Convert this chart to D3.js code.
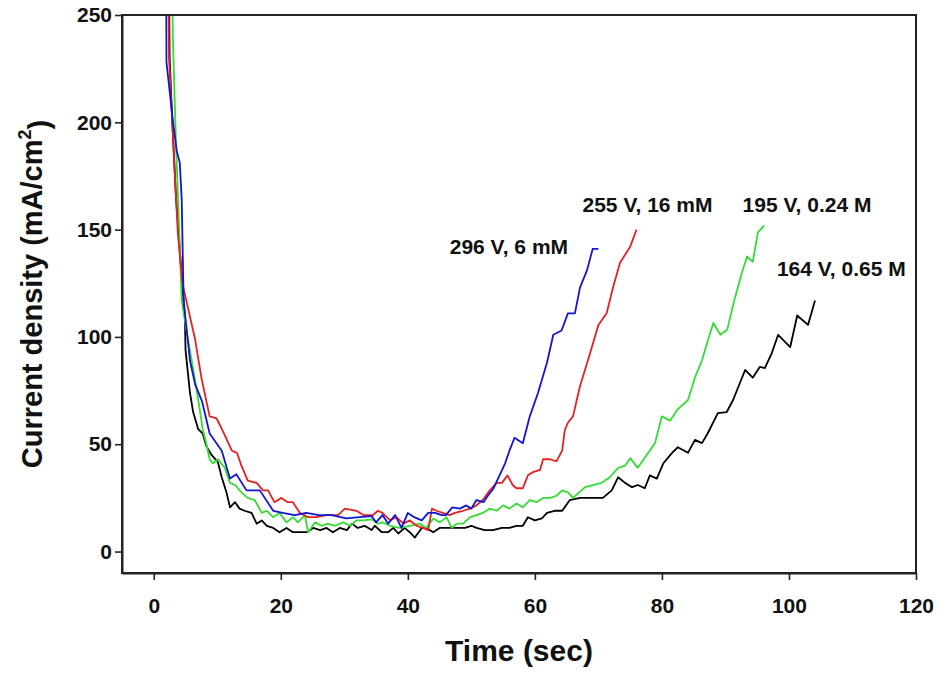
<!DOCTYPE html>
<html>
<head>
<meta charset="utf-8">
<script src="https://cdn.jsdelivr.net/npm/d3@7"></script>
<style>
  html, body { margin: 0; padding: 0; background: #fff; }
  svg { display: block; }
  text { font-family: "Liberation Sans", Arial, sans-serif; font-weight: bold; fill: #111; }
</style>
</head>
<body>
<svg id="chart" width="946" height="673"></svg>
<script>
// ---------------- data ----------------
const seriesNames = ["296 V, 6 mM", "255 V, 16 mM", "195 V, 0.24 M", "164 V, 0.65 M"];

const blue296 = [[1.9,300],[2.0,228],[3.0,201],[3.6,187],[4.1,181],[4.4,164],[4.7,117],[5.7,89],[6.5,78],[7.6,70],[8.8,55],[10.7,47],[12,34],[13,36],[14.6,28.5],[16.7,28.5],[18.8,19],[20.3,18],[22.2,17],[24,18],[26,17],[28,17],[30.3,15.5],[32.4,16],[34.3,16.5],[35,13.6],[36,17],[36.9,13],[38,17],[39,11],[40,18],[41,16],[42.2,14.5],[43.2,18],[44.3,18],[45.3,17],[46,17],[47,20.6],[48.2,20],[49.2,21.5],[50,20],[50.8,24],[51.9,23],[52.6,26],[53.4,29],[54.2,34],[55.3,41],[56,47],[56.8,53],[58.1,50.5],[59.2,63],[60.5,74],[61.9,88],[62.9,101],[64.2,103],[65.2,111],[66.3,111],[67.1,123],[68.2,131],[69.1,141],[70,141]];

const red255 = [[2.2,300],[2.4,230],[3.0,195],[3.5,165],[3.8,148],[4.5,125],[5.2,116],[6.5,99],[7.5,81],[8.8,63],[9.9,62],[10.9,56],[12.3,47],[13.1,46],[13.8,40],[14.8,33],[16.2,32],[17.2,28.5],[18,28.5],[19,23],[20.1,25],[21.1,23],[21.9,23],[23,18],[24.3,16],[25.6,16],[27.2,17],[29,17],[30.1,20],[31.9,19],[33,17],[34.5,17],[35.3,19],[36,18],[37.2,14.5],[38.2,16],[39.3,13],[40.3,14.5],[41.4,12],[42.4,11],[43.2,10],[43.8,20],[44.5,19],[45.5,18],[46.6,17],[47.4,18],[48.7,19],[49.8,20],[50.8,21.5],[51.8,24],[52.9,28.5],[54,32],[54.8,32],[55.7,35.5],[56.5,31],[57.1,29.5],[58.1,29.5],[58.9,35.5],[59.7,37],[60.8,38],[61.3,43],[62.4,43],[63.4,42],[64.3,47],[64.7,56.5],[65.2,60],[66,63],[67.1,77],[68.7,92.5],[70,105.6],[71.3,111],[72.3,123],[73.4,134.6],[75,142],[76,150]];

const green195 = [[2.8,300],[3.0,240],[3.5,190],[4.0,150],[4.4,117],[5.2,102],[6.5,80],[7.2,67],[7.7,57],[8.3,50],[8.8,43],[9.3,41],[10.1,43],[11.2,39],[12,32],[12.8,31],[13.8,27.6],[14.8,25],[15.9,24],[17,18],[17.8,19],[18.8,16],[19.8,18],[20.9,13.6],[21.9,16],[22.7,13.6],[23.8,17],[24.3,9],[25.4,13.6],[26.4,12],[27.4,13],[28.5,12],[29.8,13.6],[30.9,12],[31.9,14.5],[33,14.5],[34.3,15],[35.3,13],[36,13.6],[37.2,12],[38.7,11],[40.3,12],[41.9,13],[42.9,11],[44,15.4],[45,13.6],[46.1,16],[46.9,11],[47.7,13],[48.7,13],[49.8,16],[50.8,17],[51.8,18],[52.9,20],[54,19],[55,21.5],[56,20],[57.1,22.4],[58.1,20.6],[59.2,24],[60.3,23],[61.3,25],[62.4,25],[63.4,26],[64.3,28.5],[65.2,27.6],[66,25],[67.9,30],[69.2,31],[70.5,32],[71.8,34.6],[73.1,39],[74.2,40],[75,43.5],[76.2,39],[77.6,45],[78.9,50.5],[80,63],[81.3,61],[82.4,66],[84.1,70.6],[85.2,81],[86.3,89],[87.1,97],[88.1,106.5],[89.2,101],[90.3,103.5],[91.3,116],[92.6,130],[93.4,137.5],[94.3,135],[95.1,148.6],[96.1,152]];

const black164 = [[2.3,300],[2.5,230],[3.0,195],[3.5,165],[4.0,145],[4.4,128],[4.9,109],[5.0,94],[5.7,74],[6.2,65],[7.0,57],[7.7,55],[8.3,49],[9.1,45],[10.1,41.6],[10.7,34.6],[11.5,27],[12,20.6],[12.8,23],[13.5,20],[14.3,19],[15.4,18],[16.2,13],[17,14.5],[17.8,12],[18.8,11],[19.8,9],[20.9,11],[21.9,9],[23,9],[24.1,9],[25.1,11],[26.2,10],[27.2,11],[28.2,9],[29.3,11],[30.4,10],[31.2,13],[32.1,11],[33.2,12],[34.3,10],[34.8,12],[35.9,9],[36.9,9],[37.7,11],[38.5,8.4],[39.5,11],[40.3,9],[41.1,6.5],[42.2,11],[42.9,11],[44,9],[45,11],[45.8,11],[46.9,11],[47.9,11],[49,11],[50,12],[50.8,11],[52.1,10],[53.4,10],[54.8,11],[56,11],[57.1,12],[58.1,12],[58.9,16],[60,14.5],[61.1,15.4],[61.9,18],[63.1,19],[64.3,19],[65.5,24],[67.1,25],[69.2,25],[70.7,25],[72.1,28.5],[73.1,34.6],[74.2,32],[75.3,30],[76.2,31],[77.3,29.5],[78.1,35.5],[79.2,34],[80.2,41],[81.6,46],[82.5,48.6],[84.1,46],[85.2,52],[86.3,50.5],[87.2,55],[88.8,64.5],[90.2,65],[91.2,70.6],[93.1,84.6],[94.3,81],[95.4,86],[96.2,85.5],[97.3,92.5],[98.3,101],[100.2,95.3],[101.3,110],[103,105.6],[104.1,117]];

const xTicks = [0, 20, 40, 60, 80, 100, 120];
const yTicks = [0, 50, 100, 150, 200, 250];
const xTitle = "Time (sec)";

// ---------------- layout ----------------
const svg = d3.select("#chart");
const M = { left: 122, top: 15, right: 916, bottom: 573 };
const x = d3.scaleLinear().domain([-5, 120]).range([M.left, M.right]);
const y = d3.scaleLinear().domain([-10, 250]).range([M.bottom, M.top]);

const series = [
  { name: seriesNames[0], data: blue296,  color: "#1414d2", label: [46.6, 138.5] },
  { name: seriesNames[1], data: red255,   color: "#e42222", label: [67.5, 158] },
  { name: seriesNames[2], data: green195, color: "#33dd33", label: [92.7, 158] },
  { name: seriesNames[3], data: black164, color: "#000000", label: [98.1, 128.5] }
];

svg.append("defs").append("clipPath").attr("id", "plotclip")
  .append("rect").attr("x", M.left).attr("y", M.top)
  .attr("width", M.right - M.left).attr("height", M.bottom - M.top);

const line = d3.line().x(d => x(d[0])).y(d => y(d[1]));

const g = svg.append("g").attr("clip-path", "url(#plotclip)");
[series[3], series[2], series[1], series[0]].forEach(s => {
  g.append("path").datum(s.data)
    .attr("d", line)
    .attr("fill", "none")
    .attr("stroke", s.color)
    .attr("stroke-width", 1.8)
    .attr("stroke-linejoin", "round");
});

// frame
svg.append("rect")
  .attr("x", M.left).attr("y", M.top)
  .attr("width", M.right - M.left).attr("height", M.bottom - M.top)
  .attr("fill", "none").attr("stroke", "#222").attr("stroke-width", 2);

// axes
const xAxis = svg.append("g").attr("transform", `translate(0,${M.bottom})`)
  .call(d3.axisBottom(x).tickValues(xTicks).tickSize(7).tickSizeOuter(0).tickPadding(18));
const yAxis = svg.append("g").attr("transform", `translate(${M.left},0)`)
  .call(d3.axisLeft(y).tickValues(yTicks).tickSize(7).tickSizeOuter(0).tickPadding(3));

[xAxis, yAxis].forEach(a => {
  a.select(".domain").attr("stroke", "#222").attr("stroke-width", 2);
  a.selectAll(".tick line").attr("stroke", "#222").attr("stroke-width", 1.6);
  a.selectAll(".tick text")
    .style("font-family", '"Liberation Sans", Arial, sans-serif')
    .style("font-weight", "bold").style("font-size", "21px").attr("fill", "#111");
});

// axis titles
svg.append("text")
  .attr("x", (M.left + M.right) / 2).attr("y", 661)
  .attr("text-anchor", "middle").style("font-size", "30px")
  .text(xTitle);

const yt = svg.append("text")
  .attr("transform", `translate(42,${(M.top + M.bottom) / 2}) rotate(-90)`)
  .attr("text-anchor", "middle").style("font-size", "29px");
yt.append("tspan").text("Current density (mA/cm");
yt.append("tspan").attr("dy", "-0.6em").style("font-size", "18px").text("2");
yt.append("tspan").attr("dy", "0.6em").text(")");

// series labels
svg.append("g").selectAll("text").data(series).join("text")
  .attr("x", d => x(d.label[0])).attr("y", d => y(d.label[1]))
  .style("font-size", "21px")
  .text(d => d.name);
</script>
</body>
</html>
